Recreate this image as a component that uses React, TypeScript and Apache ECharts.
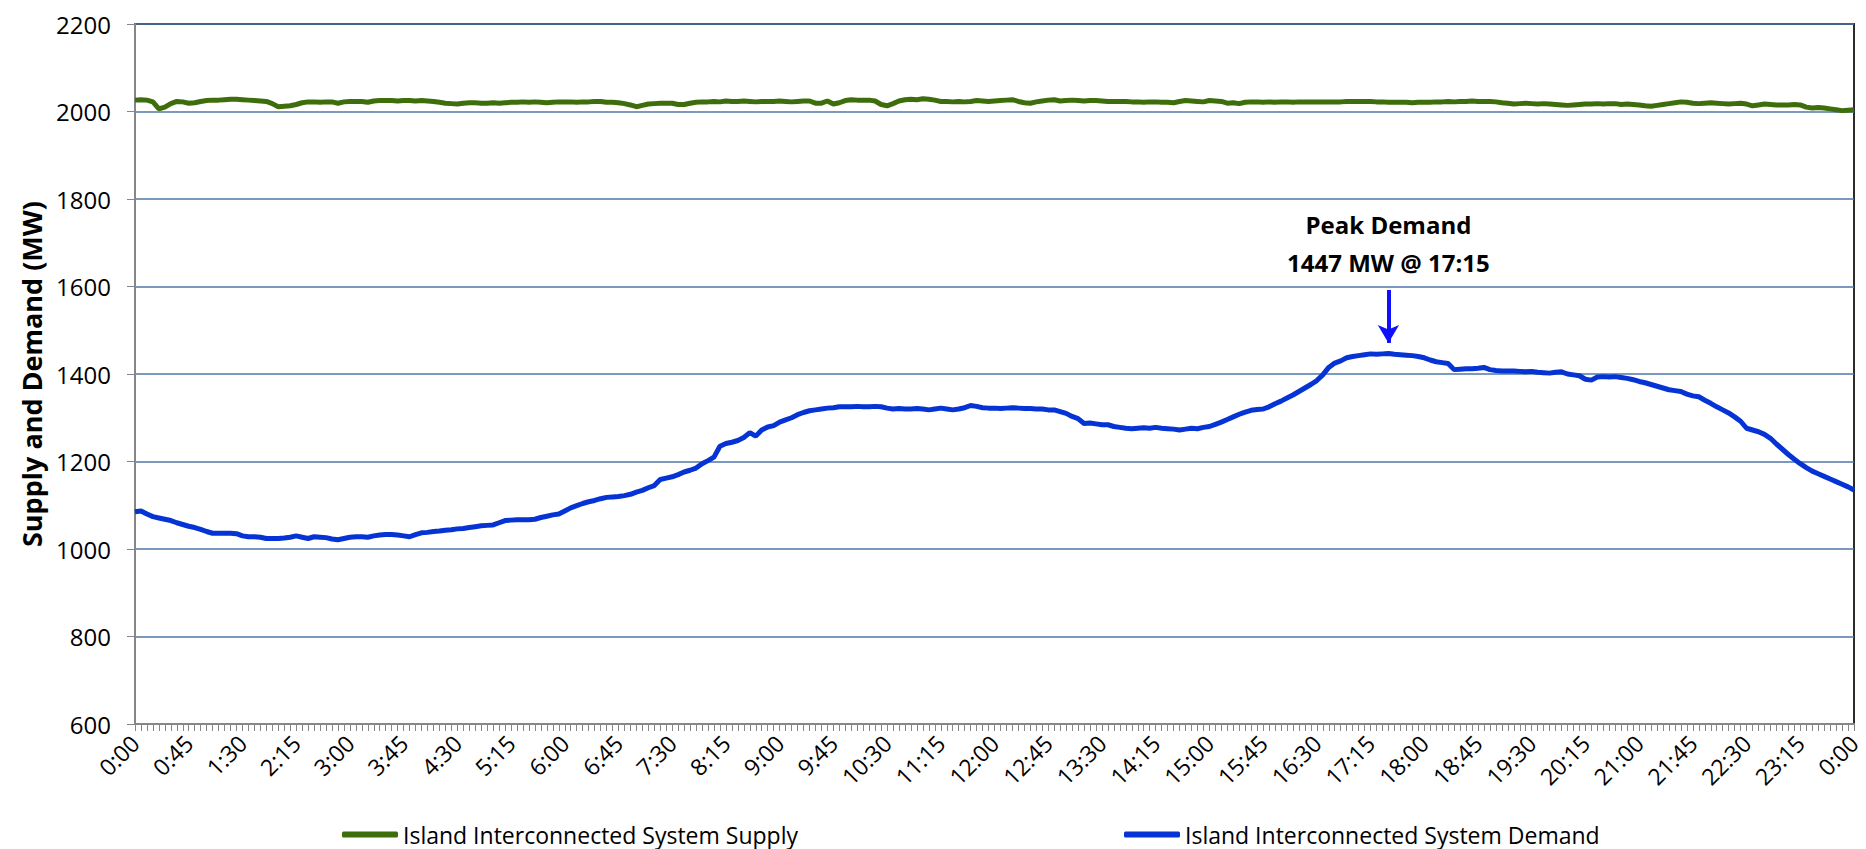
import React, { useEffect, useRef } from "react";
import * as echarts from "echarts";

// 5-minute categories from 0:00 to 0:00 (next day)
const times: string[] = Array.from({ length: 289 }, (_, i) => {
  const m = (i * 5) % 1440;
  return `${Math.floor(m / 60)}:${String(m % 60).padStart(2, "0")}`;
});

const supplyName = "Island Interconnected System Supply";
const demandName = "Island Interconnected System Demand";
const yAxisTitle = "Supply and Demand (MW)";
const yTicks = { min: 600, max: 2200, step: 200 };

const supply: number[] = [
  2026, 2027, 2026, 2022, 2006, 2010, 2018, 2023, 2022, 2019, 2020, 2023,
  2025, 2026, 2026, 2027, 2028, 2028, 2027, 2026, 2025, 2024, 2023, 2018,
  2011, 2012, 2013, 2016, 2020, 2022, 2022, 2021, 2022, 2022, 2019, 2022,
  2023, 2023, 2023, 2021, 2024, 2025, 2025, 2025, 2024, 2025, 2025, 2024,
  2025, 2024, 2023, 2021, 2019, 2018, 2017, 2019, 2020, 2020, 2019, 2019,
  2020, 2019, 2020, 2021, 2021, 2022, 2021, 2022, 2021, 2020, 2021, 2022,
  2022, 2022, 2021, 2022, 2022, 2023, 2023, 2021, 2021, 2020, 2018, 2015,
  2011, 2014, 2017, 2018, 2019, 2019, 2019, 2016, 2016, 2019, 2021, 2022,
  2022, 2023, 2022, 2024, 2023, 2023, 2024, 2023, 2022, 2023, 2023, 2023,
  2024, 2023, 2022, 2023, 2024, 2024, 2019, 2019, 2024, 2017, 2020, 2025,
  2027, 2026, 2026, 2026, 2024, 2016, 2013, 2018, 2024, 2027, 2028, 2027,
  2029, 2028, 2026, 2023, 2023, 2022, 2023, 2022, 2023, 2025, 2024, 2023,
  2024, 2025, 2026, 2027, 2023, 2020, 2019, 2022, 2024, 2026, 2027, 2024,
  2025, 2026, 2025, 2024, 2025, 2025, 2024, 2023, 2023, 2023, 2023, 2022,
  2022, 2021, 2022, 2022, 2021, 2021, 2020, 2023, 2025, 2024, 2023, 2022,
  2025, 2024, 2023, 2019, 2020, 2018, 2021, 2022, 2022, 2021, 2022, 2021,
  2022, 2022, 2021, 2022, 2022, 2022, 2022, 2022, 2022, 2022, 2022, 2023,
  2023, 2023, 2023, 2023, 2022, 2022, 2021, 2021, 2021, 2021, 2020, 2021,
  2021, 2021, 2022, 2022, 2023, 2022, 2023, 2023, 2024, 2023, 2023, 2023,
  2022, 2020, 2019, 2017, 2018, 2019, 2018, 2017, 2018, 2017, 2016, 2015,
  2014, 2015, 2016, 2017, 2017, 2018, 2017, 2018, 2018, 2016, 2017, 2016,
  2015, 2013, 2012, 2014, 2016, 2018, 2020, 2022, 2021, 2019, 2018, 2019,
  2020, 2019, 2018, 2017, 2018, 2019, 2017, 2013, 2015, 2017, 2016, 2015,
  2015, 2015, 2016, 2015, 2010, 2008, 2009, 2008, 2006, 2004, 2002, 2003,
  2004,
];

const demand: number[] = [
  1085, 1087, 1080, 1074, 1071, 1068, 1065, 1060, 1056, 1052, 1049, 1045,
  1040, 1036, 1036, 1036, 1036, 1035, 1030, 1028, 1028, 1027, 1024, 1024,
  1024, 1025, 1027, 1030, 1027, 1024, 1028, 1027, 1026, 1023, 1021, 1024,
  1027, 1028, 1028, 1027, 1030, 1032, 1033, 1033, 1032, 1030, 1028, 1033,
  1037, 1038, 1040, 1041, 1043, 1044, 1046, 1047, 1049, 1051, 1053, 1054,
  1055, 1060, 1065, 1066, 1067, 1067, 1067, 1068, 1072, 1075, 1078, 1080,
  1087, 1094, 1099, 1104, 1108, 1111, 1115, 1118, 1119, 1120, 1122, 1125,
  1130, 1134, 1140, 1145, 1159, 1162, 1165, 1170, 1176, 1180, 1185, 1195,
  1202, 1210, 1235, 1241, 1244, 1248, 1255, 1266, 1258, 1272, 1279, 1282,
  1290, 1295, 1300, 1307, 1312, 1316, 1318, 1320, 1322, 1323, 1325, 1325,
  1325, 1326, 1325, 1325, 1326, 1325, 1322, 1320, 1321, 1320, 1320, 1321,
  1320, 1318, 1320, 1322, 1320, 1318, 1320, 1323, 1328, 1326, 1323, 1322,
  1322, 1321, 1322, 1323, 1322, 1321, 1321, 1320, 1320, 1318, 1318, 1314,
  1310, 1303, 1298, 1287, 1288, 1286, 1284, 1284, 1280, 1278, 1276, 1275,
  1276, 1277, 1276, 1278, 1276, 1275, 1274, 1272, 1274, 1276, 1275, 1278,
  1280, 1285, 1290, 1296, 1302, 1308, 1313, 1317, 1319, 1320, 1325, 1332,
  1338, 1345, 1352, 1360, 1368, 1376, 1385, 1398, 1415, 1425, 1430, 1437,
  1440, 1442, 1444, 1446, 1445, 1446, 1447, 1445, 1444, 1443, 1442, 1440,
  1437, 1432, 1428, 1426, 1424, 1410, 1411, 1412, 1412, 1413, 1415, 1410,
  1408, 1407, 1407, 1407, 1406, 1405, 1406, 1404, 1403, 1402, 1404, 1405,
  1400, 1398, 1396, 1388, 1386, 1393, 1394, 1393, 1394, 1392, 1390, 1387,
  1383, 1380, 1376, 1372, 1368, 1364, 1362, 1360, 1354, 1350, 1348, 1340,
  1333, 1325, 1318, 1311, 1302, 1292, 1276, 1272, 1268, 1262, 1253, 1240,
  1228, 1216, 1205, 1195, 1186, 1178, 1172, 1166, 1160, 1154, 1148, 1142,
  1135,
];

const peakIndex = 210;
const peakLines = ["Peak Demand", "1447 MW @ 17:15"];
const arrowFrom = 1592;
const arrowTo = 1471;
const peakLabelAt = 1698;

const FONT = "'Open Sans', 'Noto Sans', sans-serif";

export default function App() {
  const ref = useRef<HTMLDivElement>(null);
  useEffect(() => {
    if (!ref.current) return;
    const chart = echarts.init(ref.current, undefined, { renderer: "svg" });
    const legendText = { fontSize: 23, fontFamily: FONT, color: "#000" };
    chart.setOption({
      animation: false,
      backgroundColor: "#ffffff",
      grid: {
        left: 135,
        right: 12,
        top: 24,
        bottom: 125,
        show: true,
        borderColor: "#2b2b2b",
        borderWidth: 2,
        backgroundColor: "transparent",
      },
      legend: [
        {
          data: [supplyName],
          left: 337,
          top: 818,
          icon: "roundRect",
          itemWidth: 56,
          itemHeight: 6,
          textStyle: legendText,
        },
        {
          data: [demandName],
          left: 1119,
          top: 818,
          icon: "roundRect",
          itemWidth: 56,
          itemHeight: 6,
          textStyle: legendText,
        },
      ],
      xAxis: {
        type: "category",
        data: times,
        boundaryGap: false,
        axisLine: { show: true, lineStyle: { color: "#868686", width: 2 } },
        axisTick: {
          show: true,
          interval: 0,
          length: 7,
          lineStyle: { color: "#868686", width: 1 },
        },
        axisLabel: {
          interval: 8,
          rotate: 45,
          fontSize: 23,
          fontFamily: FONT,
          color: "#000",
          margin: 15,
        },
        splitLine: { show: false },
      },
      yAxis: {
        type: "value",
        min: yTicks.min,
        max: yTicks.max,
        interval: yTicks.step,
        name: yAxisTitle,
        nameLocation: "middle",
        nameGap: 86,
        nameRotate: 90,
        nameTextStyle: {
          fontSize: 27,
          fontWeight: "bold",
          fontFamily: FONT,
          color: "#000",
        },
        axisLine: { show: true, lineStyle: { color: "#868686", width: 2 } },
        axisTick: { show: true, length: 8, lineStyle: { color: "#868686" } },
        axisLabel: {
          fontSize: 24,
          fontFamily: FONT,
          color: "#000",
          margin: 24,
          formatter: (v: number) => String(v),
        },
        splitLine: { show: true, lineStyle: { color: "#4f77aa", width: 1.5 } },
      },
      series: [
        {
          name: supplyName,
          type: "line",
          data: supply,
          showSymbol: false,
          symbol: "none",
          lineStyle: { color: "#3d6e0b", width: 5 },
          itemStyle: { color: "#3d6e0b" },
          z: 3,
        },
        {
          name: demandName,
          type: "line",
          data: demand,
          showSymbol: false,
          symbol: "none",
          lineStyle: { color: "#0533d4", width: 5 },
          itemStyle: { color: "#0533d4" },
          z: 4,
          markLine: {
            silent: true,
            symbol: ["none", "arrow"],
            symbolSize: [16, 18],
            label: { show: false },
            lineStyle: { color: "#1010ff", width: 4, type: "solid" },
            data: [[{ coord: [peakIndex, arrowFrom] }, { coord: [peakIndex, arrowTo] }]],
          },
          markPoint: {
            silent: true,
            symbol: "circle",
            symbolSize: 1,
            itemStyle: { color: "transparent" },
            data: [
              {
                coord: [peakIndex, peakLabelAt],
                label: {
                  show: true,
                  position: "inside",
                  formatter: peakLines.join("\n"),
                  fontSize: 24,
                  fontWeight: "bold",
                  lineHeight: 38,
                  fontFamily: FONT,
                  color: "#000",
                  align: "center",
                },
              },
            ],
          },
        },
      ],
    });
    return () => chart.dispose();
  }, []);
  return (
    <div
      ref={ref}
      style={{ position: "fixed", left: 0, top: 0, width: 1866, height: 849, background: "#fff" }}
    />
  );
}
